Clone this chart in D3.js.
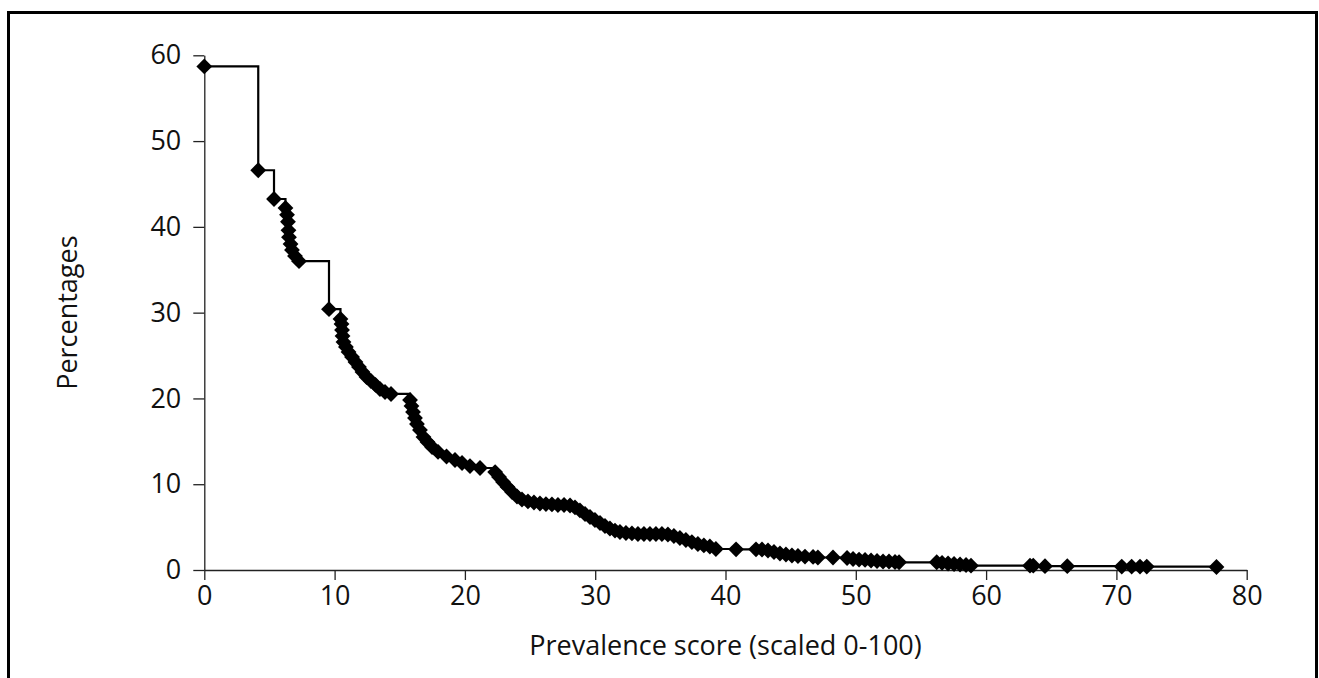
<!DOCTYPE html>
<html>
<head>
<meta charset="utf-8">
<script src="https://cdnjs.cloudflare.com/ajax/libs/d3/7.8.5/d3.min.js"></script>
<style>
  body { margin: 0; background: #fff; }
  text { font-family: "Open Sans", "Noto Sans", sans-serif; fill: #111; }
</style>
</head>
<body>
<script>
// prevalence score (x) and percentage (y)
const scores = [0, 4.14, 5.35, 6.23, 6.35, 6.42, 6.46, 6.5, 6.62, 6.73, 6.96, 7.27, 9.57,
  10.45, 10.53, 10.57, 10.61, 10.68, 10.87, 11.07, 11.34, 11.6, 11.87, 12.14, 12.45, 12.79, 13.14, 13.48, 13.87, 14.33,
  15.79, 15.9, 16.02, 16.17, 16.32, 16.55, 16.82, 17.13, 17.48, 17.94, 18.59, 19.24, 19.78, 20.39, 21.16,
  22.32, 22.62, 22.93, 23.27, 23.62, 24.0, 24.38, 24.84, 25.3, 25.76, 26.22, 26.68, 27.14, 27.61, 28.07, 28.45,
  28.83, 29.22, 29.6, 29.98, 30.37, 30.75, 31.13, 31.52, 31.9, 32.36, 32.82, 33.28, 33.74, 34.2, 34.66, 35.12,
  35.58, 36.04, 36.5, 36.96, 37.42, 37.88, 38.34, 38.8, 39.26,
  40.81, 42.34, 42.8, 43.26, 43.72, 44.18, 44.64, 45.1, 45.56, 46.1, 46.72, 47.09, 48.25, 49.33, 49.79, 50.25,
  50.71, 51.17, 51.63, 52.09, 52.55, 53.01, 53.32,
  56.21, 56.62, 57.08, 57.54, 58.0, 58.46, 58.84,
  63.37, 63.62, 64.52, 66.23, 70.41, 71.17, 71.81, 72.33, 77.68]

const percentages = [58.7, 46.6, 43.25, 42.2, 41.4, 40.6, 39.6, 38.8, 38.0, 37.3, 36.6, 36.0, 30.4,
  29.26, 28.68, 27.98, 27.28, 26.58, 26.0, 25.41, 24.83, 24.25, 23.67, 23.08, 22.5, 22.03, 21.57, 21.1, 20.75, 20.52,
  19.82, 19.12, 18.42, 17.72, 17.02, 16.32, 15.5, 14.92, 14.34, 13.76, 13.23, 12.82, 12.47, 12.12, 11.89,
  11.42, 10.84, 10.26, 9.68, 9.09, 8.57, 8.22, 7.99, 7.87, 7.75, 7.69, 7.64, 7.58, 7.58, 7.52, 7.29,
  6.94, 6.53, 6.18, 5.83, 5.48, 5.13, 4.84, 4.6, 4.43, 4.31, 4.26, 4.2, 4.2, 4.2, 4.2, 4.2,
  4.14, 3.96, 3.73, 3.5, 3.26, 3.03, 2.86, 2.74, 2.45,
  2.41, 2.41, 2.39, 2.27, 2.1, 1.92, 1.81, 1.69, 1.63, 1.57, 1.52, 1.46, 1.46, 1.4, 1.28, 1.22,
  1.17, 1.11, 1.05, 0.99, 0.99, 0.93, 0.9,
  0.9, 0.82, 0.76, 0.7, 0.64, 0.58, 0.5,
  0.5, 0.5, 0.45, 0.45, 0.4, 0.4, 0.4, 0.4, 0.35]

const xTicks = [0, 10, 20, 30, 40, 50, 60, 70, 80]
const yTicks = [0, 10, 20, 30, 40, 50, 60]

var width = 1319,
    height = 678;

var svg = d3.select("body")
    .append("svg")
    .attr("width", width)
    .attr("height", height);

// cadre autour du graphique
svg.append("rect")
    .attr("x", 8.5)
    .attr("y", 12.5)
    .attr("width", 1308)
    .attr("height", 720)
    .attr("fill", "none")
    .attr("stroke", "#000")
    .attr("stroke-width", 3);

var x = d3.scaleLinear().domain([0, 80]).range([204.3, 1246.7]);
var y = d3.scaleLinear().domain([0, 60]).range([570, 55.3]);

var data = scores.map((s, i) => ({ score: s, pct: percentages[i] }));

// axes
var yAxis = svg.append("g")
    .attr("transform", `translate(${x(0)},0)`)
    .call(d3.axisLeft(y).tickValues(yTicks).tickSize(11).tickSizeOuter(0).tickPadding(12));

var xAxis = svg.append("g")
    .attr("transform", `translate(0,${y(0)})`)
    .call(d3.axisBottom(x).tickValues(xTicks).tickSize(10).tickSizeOuter(0).tickPadding(6));

[xAxis, yAxis].forEach(a => {
    a.selectAll("path, line").attr("stroke", "#222").attr("stroke-width", 1.3);
    a.selectAll("text")
        .attr("font-family", '"Open Sans", "Noto Sans", sans-serif')
        .attr("font-size", 27)
        .attr("fill", "#111");
});

// courbe en escalier
var line = d3.line()
    .x(d => x(d.score))
    .y(d => y(d.pct))
    .curve(d3.curveStepAfter);

svg.append("path")
    .datum(data)
    .attr("d", line)
    .attr("fill", "none")
    .attr("stroke", "#000")
    .attr("stroke-width", 2.2);

// losanges
var diamond = d3.symbol().type(d3.symbolSquare).size(125);

svg.selectAll(".pt")
    .data(data)
    .join("path")
    .attr("class", "pt")
    .attr("d", diamond)
    .attr("transform", d => `translate(${x(d.score)},${y(d.pct)}) rotate(45)`)
    .attr("fill", "#000");

// titres des axes
svg.append("text")
    .attr("x", (x(0) + x(80)) / 2)
    .attr("y", 655)
    .attr("text-anchor", "middle")
    .attr("font-size", 27)
    .text("Prevalence score (scaled 0-100)");

svg.append("text")
    .attr("transform", `translate(77,${(y(0) + y(60)) / 2}) rotate(-90)`)
    .attr("text-anchor", "middle")
    .attr("font-size", 27)
    .text("Percentages");
</script>
</body>
</html>
